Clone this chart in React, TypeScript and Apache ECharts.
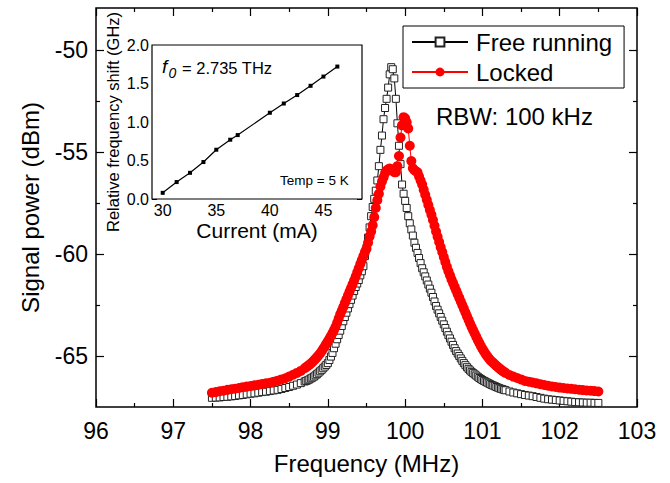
import React, { useEffect, useRef } from "react";
import * as echarts from "echarts";

// Free running spectrum [frequency MHz, power dBm]
const freeRunning: [number, number][] = [
  [97.5, -67.05], [97.55, -67.04], [97.6, -67.03], [97.65, -67.01], [97.7, -67.0], [97.75, -66.98],
  [97.8, -66.96], [97.85, -66.93], [97.9, -66.91], [97.95, -66.88], [98.0, -66.85], [98.05, -66.83],
  [98.1, -66.8], [98.15, -66.77], [98.2, -66.75], [98.25, -66.72], [98.3, -66.69], [98.35, -66.66],
  [98.4, -66.62], [98.45, -66.57], [98.5, -66.52], [98.55, -66.46], [98.6, -66.4], [98.65, -66.33],
  [98.7, -66.25], [98.72, -66.22], [98.74, -66.19], [98.76, -66.15], [98.78, -66.1], [98.8, -66.06],
  [98.82, -66.01], [98.84, -65.95], [98.86, -65.89], [98.88, -65.82], [98.9, -65.75], [98.92, -65.68],
  [98.94, -65.6], [98.96, -65.52], [98.98, -65.44], [99.0, -65.35], [99.02, -65.2], [99.04, -65.03],
  [99.06, -64.85], [99.08, -64.62], [99.1, -64.4], [99.12, -64.18], [99.14, -63.97], [99.16, -63.76],
  [99.18, -63.53], [99.2, -63.3], [99.22, -63.09], [99.24, -62.88], [99.26, -62.67], [99.28, -62.46],
  [99.3, -62.25], [99.32, -62.04], [99.34, -61.82], [99.36, -61.62], [99.38, -61.45], [99.4, -61.28],
  [99.42, -61.05], [99.44, -60.85], [99.46, -60.6], [99.48, -60.1], [99.5, -59.7], [99.52, -59.2],
  [99.54, -58.7], [99.56, -58.15], [99.58, -57.7], [99.6, -57.3], [99.62, -56.9], [99.64, -56.4],
  [99.66, -55.7], [99.68, -54.9], [99.7, -54.2], [99.72, -53.4], [99.74, -52.85], [99.76, -52.4],
  [99.78, -51.85], [99.8, -51.2], [99.82, -50.85], [99.84, -50.95], [99.86, -51.4], [99.88, -52.4],
  [99.9, -53.6], [99.92, -54.7], [99.94, -55.6], [99.96, -56.6], [99.98, -57.05], [100.0, -57.4],
  [100.02, -57.75], [100.04, -58.15], [100.06, -58.5], [100.08, -58.8], [100.1, -59.1], [100.12, -59.45],
  [100.14, -59.7], [100.16, -59.95], [100.18, -60.2], [100.2, -60.45], [100.22, -60.7], [100.24, -60.9],
  [100.26, -61.1], [100.28, -61.3], [100.3, -61.5], [100.32, -61.7], [100.34, -61.9], [100.36, -62.11],
  [100.38, -62.33], [100.4, -62.55], [100.42, -62.73], [100.44, -62.91], [100.46, -63.09], [100.48, -63.27],
  [100.5, -63.45], [100.52, -63.63], [100.54, -63.81], [100.56, -63.98], [100.58, -64.14], [100.6, -64.3],
  [100.62, -64.46], [100.64, -64.62], [100.66, -64.76], [100.68, -64.88], [100.7, -65.0], [100.72, -65.12],
  [100.74, -65.24], [100.76, -65.35], [100.78, -65.45], [100.8, -65.55], [100.82, -65.63], [100.84, -65.71],
  [100.86, -65.78], [100.88, -65.84], [100.9, -65.9], [100.92, -65.96], [100.94, -66.02], [100.96, -66.08],
  [100.98, -66.13], [101.0, -66.18], [101.02, -66.22], [101.04, -66.26], [101.06, -66.3], [101.08, -66.34],
  [101.1, -66.38], [101.12, -66.42], [101.14, -66.45], [101.16, -66.48], [101.18, -66.52], [101.2, -66.55],
  [101.22, -66.58], [101.24, -66.61], [101.26, -66.63], [101.28, -66.66], [101.3, -66.68],
  [101.35, -66.74], [101.4, -66.79], [101.45, -66.83], [101.5, -66.87], [101.55, -66.91], [101.6, -66.94],
  [101.65, -66.97], [101.7, -67.01], [101.75, -67.05], [101.8, -67.09], [101.85, -67.12], [101.9, -67.14],
  [101.95, -67.16], [102.0, -67.18], [102.05, -67.2], [102.1, -67.22], [102.15, -67.24], [102.2, -67.26],
  [102.25, -67.27], [102.3, -67.28], [102.35, -67.29], [102.4, -67.29], [102.45, -67.3], [102.5, -67.3],
];

// Locked spectrum [frequency MHz, power dBm]
const locked: [number, number][] = [
  [97.5, -66.8], [97.55, -66.77], [97.6, -66.73], [97.65, -66.7], [97.7, -66.66], [97.75, -66.63],
  [97.8, -66.6], [97.85, -66.57], [97.9, -66.53], [97.95, -66.5], [98.0, -66.47], [98.05, -66.44],
  [98.1, -66.41], [98.15, -66.37], [98.2, -66.34], [98.25, -66.31], [98.3, -66.26], [98.35, -66.21],
  [98.4, -66.15], [98.45, -66.09], [98.5, -66.01], [98.55, -65.92], [98.6, -65.83], [98.65, -65.73],
  [98.7, -65.6], [98.72, -65.55], [98.74, -65.49], [98.76, -65.43], [98.78, -65.37], [98.8, -65.3],
  [98.82, -65.22], [98.84, -65.14], [98.86, -65.06], [98.88, -64.97], [98.9, -64.88], [98.92, -64.77],
  [98.94, -64.65], [98.96, -64.53], [98.98, -64.4], [99.0, -64.28], [99.02, -64.15], [99.04, -64.02],
  [99.06, -63.88], [99.08, -63.73], [99.1, -63.57], [99.12, -63.37], [99.14, -63.16], [99.16, -62.96],
  [99.18, -62.78], [99.2, -62.6], [99.22, -62.41], [99.24, -62.22], [99.26, -62.04], [99.28, -61.85],
  [99.3, -61.67], [99.32, -61.49], [99.34, -61.3], [99.36, -61.11], [99.38, -60.9], [99.4, -60.7],
  [99.42, -60.49], [99.44, -60.3], [99.46, -60.1], [99.48, -59.9], [99.5, -59.75], [99.52, -59.45],
  [99.54, -59.15], [99.56, -58.9], [99.58, -58.6], [99.6, -58.2], [99.62, -57.75], [99.64, -57.37],
  [99.66, -57.05], [99.68, -56.7], [99.7, -56.45], [99.72, -56.25], [99.74, -56.05], [99.76, -55.92],
  [99.78, -55.85], [99.8, -55.82], [99.82, -55.85], [99.84, -55.92], [99.86, -56.0], [99.88, -56.0],
  [99.9, -55.7], [99.92, -55.2], [99.94, -54.3], [99.96, -53.7], [99.98, -53.3], [100.0, -53.35],
  [100.02, -53.55], [100.04, -53.85], [100.06, -54.7], [100.08, -55.45], [100.1, -55.8], [100.12, -55.9],
  [100.14, -55.95], [100.16, -56.0], [100.18, -56.2], [100.2, -56.4], [100.22, -56.6], [100.24, -56.85],
  [100.26, -57.1], [100.28, -57.35], [100.3, -57.6], [100.32, -57.85], [100.34, -58.08], [100.36, -58.34],
  [100.38, -58.62], [100.4, -58.9], [100.42, -59.16], [100.44, -59.42], [100.46, -59.67], [100.48, -59.91],
  [100.5, -60.15], [100.52, -60.39], [100.54, -60.63], [100.56, -60.85], [100.58, -61.05], [100.6, -61.25],
  [100.62, -61.43], [100.64, -61.61], [100.66, -61.79], [100.68, -61.97], [100.7, -62.15], [100.72, -62.33],
  [100.74, -62.51], [100.76, -62.69], [100.78, -62.87], [100.8, -63.05], [100.82, -63.23], [100.84, -63.41],
  [100.86, -63.58], [100.88, -63.74], [100.9, -63.9], [100.92, -64.06], [100.94, -64.22], [100.96, -64.37],
  [100.98, -64.51], [101.0, -64.65], [101.02, -64.77], [101.04, -64.89], [101.06, -65.0], [101.08, -65.1],
  [101.1, -65.2], [101.12, -65.27], [101.14, -65.34], [101.16, -65.41], [101.18, -65.48], [101.2, -65.55],
  [101.22, -65.61], [101.24, -65.67], [101.26, -65.73], [101.28, -65.78], [101.3, -65.83],
  [101.35, -65.93], [101.4, -66.01], [101.45, -66.08], [101.5, -66.15], [101.55, -66.22], [101.6, -66.26],
  [101.65, -66.3], [101.7, -66.34], [101.75, -66.38], [101.8, -66.42], [101.85, -66.46], [101.9, -66.49],
  [101.95, -66.52], [102.0, -66.55], [102.05, -66.57], [102.1, -66.59], [102.15, -66.61], [102.2, -66.63],
  [102.25, -66.65], [102.3, -66.67], [102.35, -66.69], [102.4, -66.7], [102.45, -66.72], [102.5, -66.74],
];

// Inset: relative frequency shift vs current
const insetCurrent = [30.0, 31.3, 32.55, 33.8, 35.0, 36.3, 37.0, 40.0, 41.3, 42.55, 43.8, 45.0, 46.3];
const insetShift = [0.08, 0.22, 0.34, 0.48, 0.64, 0.77, 0.83, 1.12, 1.24, 1.35, 1.47, 1.59, 1.72];

const mainYMajor = [-65, -60, -55, -50];
const mainYMinor = [-62.5, -57.5, -52.5];
const insetXMajor = [30, 35, 40, 45];
const insetXMinor = [29, 31, 32, 33, 34, 36, 37, 38, 39, 41, 42, 43, 44, 46, 47, 48];

const FONT = "Liberation Sans, Arial, sans-serif";

export default function App() {
  const ref = useRef<HTMLDivElement>(null);
  useEffect(() => {
    if (!ref.current) return;
    const chart = echarts.init(ref.current, undefined, { renderer: "svg" });
    const yMin = -67.5;
    const yMax = -47.95;
    const iXMin = 29;
    const iXMax = 48.6;
    const tickStyle = { color: "#000", width: 1.2 };
    const thin = { color: "#000", width: 1 };
    const hiddenLine = { show: false };
    const option: any = {
      animation: false,
      backgroundColor: "#fff",
      textStyle: { fontFamily: FONT, color: "#000" },
      grid: [
        { left: 96, right: 33, top: 8, bottom: 76, show: true, borderColor: "#000", borderWidth: 1.5, backgroundColor: "transparent" },
        { left: 152, top: 45, width: 210, height: 154, show: true, borderColor: "#000", borderWidth: 1.2, backgroundColor: "#fff", z: 3 },
      ],
      xAxis: [
        {
          type: "value", gridIndex: 0, min: 96, max: 103, interval: 1, position: "bottom",
          name: "Frequency (MHz)", nameLocation: "middle", nameGap: 44,
          nameTextStyle: { fontSize: 24, color: "#000", fontFamily: FONT },
          axisLine: hiddenLine, splitLine: { show: false },
          axisTick: { inside: true, length: 8, lineStyle: tickStyle },
          minorTick: { show: true, splitNumber: 2, length: 4, lineStyle: tickStyle },
          axisLabel: { fontSize: 23, color: "#000", margin: 12, fontFamily: FONT },
        },
        {
          type: "value", gridIndex: 0, min: 96, max: 103, interval: 1, position: "top",
          axisLine: hiddenLine, splitLine: { show: false },
          axisTick: { inside: true, length: 8, lineStyle: tickStyle },
          minorTick: { show: true, splitNumber: 2, length: 4, lineStyle: tickStyle },
          axisLabel: { show: false },
        },
        {
          type: "value", gridIndex: 1, min: iXMin, max: iXMax, position: "bottom",
          name: "Current (mA)", nameLocation: "middle", nameGap: 21,
          nameTextStyle: { fontSize: 21, color: "#000", fontFamily: FONT },
          axisLine: hiddenLine, splitLine: { show: false },
          axisTick: { inside: true, length: 5, customValues: insetXMajor, lineStyle: thin },
          axisLabel: { fontSize: 16, color: "#000", margin: 3, customValues: insetXMajor, fontFamily: FONT },
        },
        {
          type: "value", gridIndex: 1, min: iXMin, max: iXMax, position: "bottom",
          axisLine: hiddenLine, splitLine: { show: false },
          axisTick: { inside: true, length: 2.5, customValues: insetXMinor, lineStyle: thin },
          axisLabel: { show: false },
        },
        {
          type: "value", gridIndex: 1, min: iXMin, max: iXMax, position: "top",
          axisLine: hiddenLine, splitLine: { show: false },
          axisTick: { inside: true, length: 5, customValues: insetXMajor, lineStyle: thin },
          axisLabel: { show: false },
        },
        {
          type: "value", gridIndex: 1, min: iXMin, max: iXMax, position: "top",
          axisLine: hiddenLine, splitLine: { show: false },
          axisTick: { inside: true, length: 2.5, customValues: insetXMinor, lineStyle: thin },
          axisLabel: { show: false },
        },
      ],
      yAxis: [
        {
          type: "value", gridIndex: 0, min: yMin, max: yMax, position: "left",
          name: "Signal power (dBm)", nameLocation: "middle", nameGap: 54,
          nameTextStyle: { fontSize: 24, color: "#000", fontFamily: FONT },
          axisLine: hiddenLine, splitLine: { show: false },
          axisTick: { inside: true, length: 8, customValues: mainYMajor, lineStyle: tickStyle },
          axisLabel: { fontSize: 23, color: "#000", margin: 8, customValues: mainYMajor, fontFamily: FONT },
        },
        {
          type: "value", gridIndex: 0, min: yMin, max: yMax, position: "left",
          axisLine: hiddenLine, splitLine: { show: false },
          axisTick: { inside: true, length: 4, customValues: mainYMinor, lineStyle: tickStyle },
          axisLabel: { show: false },
        },
        {
          type: "value", gridIndex: 0, min: yMin, max: yMax, position: "right",
          axisLine: hiddenLine, splitLine: { show: false },
          axisTick: { inside: true, length: 8, customValues: mainYMajor, lineStyle: tickStyle },
          axisLabel: { show: false },
        },
        {
          type: "value", gridIndex: 0, min: yMin, max: yMax, position: "right",
          axisLine: hiddenLine, splitLine: { show: false },
          axisTick: { inside: true, length: 4, customValues: mainYMinor, lineStyle: tickStyle },
          axisLabel: { show: false },
        },
        {
          type: "value", gridIndex: 1, min: 0, max: 2, interval: 0.5, position: "left",
          name: "Relative frequency shift (GHz)", nameLocation: "middle", nameGap: 31,
          nameTextStyle: { fontSize: 16.5, color: "#000", fontFamily: FONT },
          axisLine: hiddenLine, splitLine: { show: false },
          axisTick: { inside: true, length: 5, lineStyle: thin },
          minorTick: { show: true, splitNumber: 5, length: 2.5, lineStyle: thin },
          axisLabel: { fontSize: 16, color: "#000", margin: 3, fontFamily: FONT, formatter: (v: number) => v.toFixed(1) },
        },
        {
          type: "value", gridIndex: 1, min: 0, max: 2, interval: 0.5, position: "right",
          axisLine: hiddenLine, splitLine: { show: false },
          axisTick: { inside: true, length: 5, lineStyle: thin },
          minorTick: { show: true, splitNumber: 5, length: 2.5, lineStyle: thin },
          axisLabel: { show: false },
        },
      ],
      legend: {
        data: ["Free running", "Locked"],
        orient: "vertical",
        left: 403,
        top: 26,
        itemWidth: 56,
        itemHeight: 11,
        itemGap: 4,
        padding: [3, 12, 3, 8],
        borderColor: "#000",
        borderWidth: 1,
        backgroundColor: "#fff",
        textStyle: { fontSize: 24, color: "#000", fontFamily: FONT, lineHeight: 26, padding: [0, 0, 0, 3] },
      },
      series: [
        {
          name: "Free running", type: "line", xAxisIndex: 0, yAxisIndex: 0,
          data: freeRunning,
          symbol: "rect", symbolSize: 7, showAllSymbol: true,
          lineStyle: { color: "#000", width: 1 },
          itemStyle: { color: "#fff", borderColor: "#222", borderWidth: 1 },
          z: 2,
        },
        {
          name: "Locked", type: "line", xAxisIndex: 0, yAxisIndex: 0,
          data: locked,
          symbol: "circle", symbolSize: 10, showAllSymbol: true,
          lineStyle: { color: "#ff0000", width: 1 },
          itemStyle: { color: "#ff0000", borderColor: "#ff0000", borderWidth: 0 },
          z: 2,
        },
        {
          name: "inset", type: "line", xAxisIndex: 2, yAxisIndex: 4,
          data: insetCurrent.map((c, i) => [c, insetShift[i]]),
          symbol: "rect", symbolSize: 4,
          lineStyle: { color: "#000", width: 1.2 },
          itemStyle: { color: "#000" },
          z: 5,
        },
      ],
      graphic: [
        { type: "text", left: 436, top: 104, z: 10, style: { text: "RBW: 100 kHz", fontSize: 24, fill: "#000", fontFamily: FONT } },
        { type: "text", left: 162, top: 57, z: 10, style: { text: "f", fontSize: 19, fontStyle: "italic", fill: "#000", fontFamily: FONT } },
        { type: "text", left: 168.5, top: 66, z: 10, style: { text: "0", fontSize: 14, fontStyle: "italic", fill: "#000", fontFamily: FONT } },
        { type: "text", left: 182, top: 59, z: 10, style: { text: "= 2.735 THz", fontSize: 16.5, fill: "#000", fontFamily: FONT } },
        { type: "text", left: 280, top: 173, z: 10, style: { text: "Temp = 5 K", fontSize: 13.5, fill: "#000", fontFamily: FONT } },
      ],
    };
    chart.setOption(option);
    return () => chart.dispose();
  }, []);
  return <div ref={ref} style={{ position: "absolute", left: 0, top: 0, width: 670, height: 483 }} />;
}
